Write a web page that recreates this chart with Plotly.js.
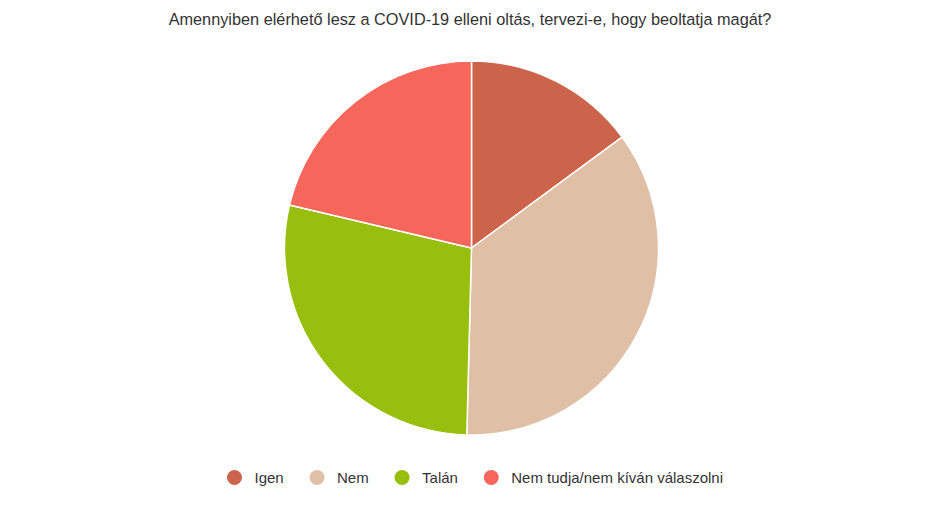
<!DOCTYPE html>
<html>
<head>
<meta charset="utf-8">
<script src="https://cdn.plot.ly/plotly-3.0.1.min.js"></script>
<style>html,body{margin:0;padding:0;background:#fff;}#chart{width:940px;height:514px;}</style>
</head>
<body>
<div id="chart"></div>
<script>
const categories = ["Igen", "Nem", "Talán", "Nem tudja/nem kíván válaszolni"];
const values = [14.9, 35.5, 28.3, 21.3];
const colors = ["#cb644a", "#dfc0a6", "#98be0e", "#f7665a"];
const titleText = "Amennyiben elérhető lesz a COVID-19 elleni oltás, tervezi-e, hogy beoltatja magát?";

const traces = [{
  type: "pie",
  labels: categories,
  values: values,
  sort: false,
  direction: "clockwise",
  rotation: 0,
  textinfo: "none",
  hoverinfo: "label+percent",
  marker: {colors: colors, line: {color: "#ffffff", width: 1.5}},
  showlegend: false,
  domain: {x: [0, 1], y: [0, 1]}
}];
categories.forEach((c, i) => {
  traces.push({
    type: "scatter", mode: "markers", x: [null], y: [null],
    name: i < categories.length - 1 ? c + "\u00a0\u00a0" : c,
    marker: {symbol: "circle", size: 15, color: colors[i]},
    showlegend: true, hoverinfo: "skip"
  });
});

const layout = {
  width: 940, height: 514,
  margin: {l: 3, r: 0, t: 61, b: 79},
  paper_bgcolor: "#ffffff", plot_bgcolor: "#ffffff",
  font: {family: "Liberation Sans, Arial, sans-serif", size: 15, color: "#333333"},
  title: {text: titleText, x: 0.5, xanchor: "center", y: 0.962, yanchor: "middle",
          font: {size: 16.3, color: "#333333"}},
  xaxis: {visible: false}, yaxis: {visible: false},
  showlegend: true,
  legend: {orientation: "h", x: 0.5, xanchor: "center", y: -0.070, yanchor: "top",
           font: {size: 15, color: "#333333"}, itemclick: false}
};
Plotly.newPlot("chart", traces, layout, {displayModeBar: false, staticPlot: true});
</script>
</body>
</html>
